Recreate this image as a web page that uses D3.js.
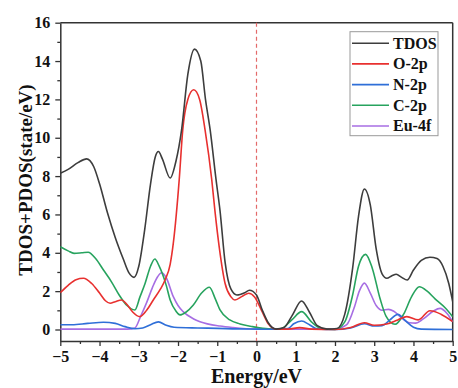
<!DOCTYPE html>
<html>
<head>
<meta charset="utf-8">
<script src="https://cdn.jsdelivr.net/npm/d3@7"></script>
<style>
  body { margin: 0; background: #fff; }
  text { font-family: "Liberation Serif", "Times New Roman", serif; font-weight: bold; }
</style>
</head>
<body>
<div id="chart"></div>
<script>
// points: [energy, dos]
const tdos = [[-5,8.15],[-4.8,8.35],[-4.55,8.7],[-4.33,8.9],[-4.15,8.5],[-4.0,7.6],[-3.8,6.1],[-3.6,4.8],[-3.4,3.7],[-3.25,2.95],[-3.12,2.72],[-3.0,3.3],[-2.85,5.2],[-2.7,7.6],[-2.58,9.0],[-2.5,9.28],[-2.4,8.9],[-2.2,7.9],[-2.05,8.8],[-1.91,10.4],[-1.75,13.3],[-1.58,14.62],[-1.42,14.0],[-1.3,12.0],[-1.18,10.4],[-1.03,7.8],[-0.93,6.2],[-0.8,3.5],[-0.65,2.1],[-0.5,1.8],[-0.3,1.92],[-0.18,2.05],[0,1.8],[0.15,1.0],[0.3,0.35],[0.5,0.02],[0.7,0.1],[0.9,0.7],[1.15,1.49],[1.35,0.9],[1.55,0.2],[1.8,0.02],[2.05,0.05],[2.25,0.8],[2.45,3.2],[2.6,5.9],[2.75,7.33],[2.9,6.5],[3.05,4.2],[3.2,2.9],[3.32,2.67],[3.45,2.8],[3.56,2.88],[3.7,2.72],[3.84,2.58],[4.0,3.1],[4.2,3.6],[4.42,3.77],[4.6,3.7],[4.75,3.3],[4.9,2.4],[5,1.45]];
const o2p = [[-5,1.92],[-4.8,2.3],[-4.6,2.6],[-4.41,2.67],[-4.2,2.4],[-4.0,1.9],[-3.85,1.5],[-3.73,1.37],[-3.6,1.45],[-3.44,1.54],[-3.3,1.3],[-3.15,0.9],[-2.97,0.67],[-2.8,1.0],[-2.63,1.54],[-2.45,2.1],[-2.33,2.58],[-2.2,3.4],[-2.12,4.5],[-1.97,7.8],[-1.88,10.4],[-1.75,12.0],[-1.6,12.5],[-1.45,12.0],[-1.31,10.4],[-1.14,7.8],[-1.06,6.2],[-0.95,4.3],[-0.8,2.4],[-0.65,1.7],[-0.55,1.54],[-0.35,1.75],[-0.2,1.89],[-0.05,1.7],[0.15,0.9],[0.3,0.3],[0.5,0.02],[0.8,0.02],[1.1,0.1],[1.4,0.02],[2.0,0],[2.4,0.1],[2.75,0.35],[3.0,0.22],[3.32,0.29],[3.6,0.5],[3.83,0.67],[4.12,0.5],[4.42,0.98],[4.7,0.8],[5,0.41]];
const n2p = [[-5,0.25],[-4.7,0.25],[-4.3,0.32],[-3.9,0.38],[-3.6,0.32],[-3.35,0.15],[-3.1,0.04],[-2.9,0.08],[-2.7,0.25],[-2.5,0.4],[-2.3,0.22],[-2.1,0.12],[-1.5,0.08],[-1.0,0.06],[-0.5,0.03],[0,0.02],[0.5,0.01],[0.8,0.05],[0.95,0.3],[1.15,0.44],[1.35,0.25],[1.55,0.03],[2.0,0],[2.4,0.08],[2.75,0.3],[3.0,0.18],[3.2,0.2],[3.4,0.5],[3.6,0.79],[3.8,0.45],[4.0,0.12],[4.2,0.02],[5,0]];
const c2p = [[-5,4.32],[-4.8,4.1],[-4.65,3.97],[-4.45,4.0],[-4.29,4.03],[-4.1,3.7],[-3.9,3.1],[-3.7,2.5],[-3.5,1.8],[-3.3,1.25],[-3.1,1.02],[-2.97,1.7],[-2.84,2.4],[-2.7,3.3],[-2.59,3.68],[-2.48,3.3],[-2.3,2.3],[-2.2,1.54],[-2.05,0.95],[-1.95,0.76],[-1.8,0.9],[-1.61,1.28],[-1.4,1.9],[-1.2,2.2],[-1.05,1.6],[-0.93,1.02],[-0.68,0.5],[-0.42,0.29],[-0.1,0.15],[0.3,0.03],[0.6,0.02],[0.9,0.5],[1.15,0.93],[1.4,0.4],[1.65,0.05],[2.0,0],[2.25,0.4],[2.45,1.8],[2.6,3.3],[2.78,3.92],[2.95,3.2],[3.15,1.6],[3.3,0.7],[3.53,0.27],[3.75,0.8],[3.95,1.7],[4.15,2.23],[4.35,2.0],[4.55,1.6],[4.8,1.15],[5,0.67]];
const eu4f = [[-5,0.02],[-4,0.02],[-3.3,0.02],[-3.1,0.08],[-2.95,0.7],[-2.8,1.4],[-2.65,2.2],[-2.52,2.75],[-2.42,2.96],[-2.3,2.7],[-2.12,1.71],[-2.0,1.25],[-1.87,0.93],[-1.6,0.55],[-1.44,0.41],[-0.93,0.18],[-0.6,0.1],[0,0.02],[1,0.02],[2.0,0.02],[2.3,0.25],[2.5,1.2],[2.62,2.0],[2.75,2.42],[2.9,1.9],[3.05,1.25],[3.2,1.0],[3.36,1.05],[3.5,0.95],[3.7,0.6],[3.9,0.35],[4.05,0.33],[4.25,0.55],[4.5,0.95],[4.68,1.1],[4.85,0.85],[5,0.4]];

const seriesNames = ['TDOS', 'O-2p', 'N-2p', 'C-2p', 'Eu-4f'];
const seriesData = [tdos, o2p, n2p, c2p, eu4f];
const seriesColors = ['#3d3d3d', '#e8302f', '#2f6fd8', '#27a35e', '#a76ee3'];
const xTicks = [-5, -4, -3, -2, -1, 0, 1, 2, 3, 4, 5];
const yTicks = [0, 2, 4, 6, 8, 10, 12, 14, 16];

const W = 458, H = 388;
const margin = {top: 22.7, right: 5.3, bottom: 47, left: 60.3};
const width = W - margin.left - margin.right;
const height = H - margin.top - margin.bottom;

const svg = d3.select('#chart').append('svg')
  .attr('width', W).attr('height', H);
const g = svg.append('g')
  .attr('transform', 'translate(' + margin.left + ',' + margin.top + ')');

const x = d3.scaleLinear().domain([-5, 5]).range([0, width]);
const y = d3.scaleLinear().domain([-0.6, 16]).range([height, 0]);

svg.append('defs').append('clipPath').attr('id', 'clip')
  .append('rect').attr('width', width).attr('height', height);

// minor ticks
const xMinor = d3.range(-4.5, 5, 1);
const yMinor = d3.range(1, 16, 2);
g.append('g').attr('transform', 'translate(0,' + height + ')')
  .call(d3.axisBottom(x).tickValues(xMinor).tickSize(3).tickFormat(''))
  .call(a => a.select('.domain').remove());
g.append('g')
  .call(d3.axisLeft(y).tickValues(yMinor).tickSize(3).tickFormat(''))
  .call(a => a.select('.domain').remove());

const xAxis = g.append('g').attr('transform', 'translate(0,' + height + ')')
  .call(d3.axisBottom(x).tickValues(xTicks).tickSize(5).tickSizeOuter(0).tickPadding(5));
const yAxis = g.append('g')
  .call(d3.axisLeft(y).tickValues(yTicks).tickSize(5).tickSizeOuter(0).tickPadding(5));

[xAxis, yAxis].forEach(a => {
  a.selectAll('text').attr('font-size', 16).attr('fill', '#111')
    .style('font-family', '"Liberation Serif", serif').style('font-weight', 'bold');
});
g.selectAll('.tick line').attr('stroke', '#333').attr('stroke-width', 1.3);
g.selectAll('.domain').attr('stroke', '#333').attr('stroke-width', 1.5);

// frame
g.append('line').attr('x1', 0).attr('x2', width).attr('y1', 0).attr('y2', 0)
  .attr('stroke', '#333').attr('stroke-width', 1.5);
g.append('line').attr('x1', width).attr('x2', width).attr('y1', 0).attr('y2', height)
  .attr('stroke', '#333').attr('stroke-width', 1.5);

// fermi level
g.append('line')
  .attr('x1', x(0)).attr('x2', x(0)).attr('y1', 0).attr('y2', height)
  .attr('stroke', '#e36a6a').attr('stroke-width', 1.2).attr('stroke-dasharray', '4,3');

const line = d3.line()
  .x(d => x(d[0]))
  .y(d => y(d[1]))
  .curve(d3.curveMonotoneX);

const plot = g.append('g').attr('clip-path', 'url(#clip)');
// draw small series first, TDOS on top order as in picture
[4, 3, 2, 1, 0].forEach(i => {
  plot.append('path')
    .datum(seriesData[i])
    .attr('fill', 'none')
    .attr('stroke', seriesColors[i])
    .attr('stroke-width', 1.6)
    .attr('d', line);
});

// legend
const lg = svg.append('g').attr('transform', 'translate(350,31.7)');
lg.append('rect').attr('width', 88).attr('height', 104)
  .attr('fill', '#fff').attr('stroke', '#999').attr('stroke-width', 1);
seriesNames.forEach((name, i) => {
  const yy = 11.5 + i * 20.7;
  lg.append('line').attr('x1', 2).attr('x2', 39).attr('y1', yy).attr('y2', yy)
    .attr('stroke', seriesColors[i]).attr('stroke-width', 1.6);
  lg.append('text').attr('x', 43).attr('y', yy + 5.5)
    .attr('font-size', 16).attr('fill', '#111').text(name);
});

// axis titles
svg.append('text')
  .attr('x', margin.left + x(0)).attr('y', 383)
  .attr('text-anchor', 'middle').attr('font-size', 20).attr('fill', '#111')
  .text('Energy/eV');
svg.append('text')
  .attr('transform', 'translate(31.5,180) rotate(-90)')
  .attr('text-anchor', 'middle').attr('font-size', 19).attr('fill', '#111')
  .text('TDOS+PDOS(state/eV)');
</script>
</body>
</html>
